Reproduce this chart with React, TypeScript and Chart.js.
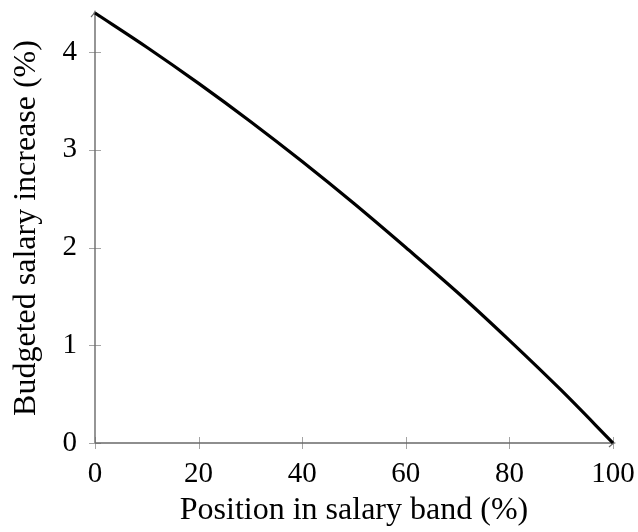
import React, { useEffect, useRef } from "react";
import { Chart, registerables } from "chart.js";

Chart.register(...registerables);

const positions = [0, 10, 20, 30, 40, 50, 60, 70, 80, 90, 100];
const increases = [4.4, 4.05, 3.68, 3.29, 2.88, 2.45, 2.0, 1.54, 1.05, 0.54, 0];
const xTickValues = [0, 20, 40, 60, 80, 100];
const yTickValues = [0, 1, 2, 3, 4];
const xTitle = "Position in salary band (%)";
const yTitle = "Budgeted salary increase (%)";

const FONT = "'Liberation Serif', 'Times New Roman', serif";

const axesPlugin = {
  id: "pgfAxes",
  beforeDatasetsDraw(chart: any) {
    const { ctx, chartArea, scales } = chart;
    const xs = scales.x;
    const ys = scales.y;
    const x0 = xs.getPixelForValue(0);
    const y0 = ys.getPixelForValue(0);
    const xEnd = chartArea.right;
    const yTop = chartArea.top;
    ctx.save();
    ctx.strokeStyle = "#9a9a9a";
    ctx.lineWidth = 0.9;
    ctx.beginPath();
    xTickValues.forEach((v) => {
      const px = Math.round(xs.getPixelForValue(v)) + 0.5;
      ctx.moveTo(px, y0 - 6);
      ctx.lineTo(px, y0 + 6);
    });
    yTickValues.forEach((v) => {
      const py = Math.round(ys.getPixelForValue(v)) + 0.5;
      ctx.moveTo(x0 - 6, py);
      ctx.lineTo(x0 + 6, py);
    });
    ctx.stroke();
    ctx.strokeStyle = "#6a6a6a";
    ctx.lineWidth = 1.4;
    ctx.beginPath();
    ctx.moveTo(x0, y0);
    ctx.lineTo(xEnd + 1, y0);
    ctx.moveTo(x0, y0);
    ctx.lineTo(x0, yTop - 1);
    ctx.stroke();
    ctx.lineWidth = 1.2;
    ctx.beginPath();
    ctx.moveTo(xEnd - 4, y0 - 4);
    ctx.quadraticCurveTo(xEnd - 1, y0 - 1, xEnd + 1.5, y0);
    ctx.quadraticCurveTo(xEnd - 1, y0 + 1, xEnd - 4, y0 + 4);
    ctx.moveTo(x0 - 4, yTop + 4);
    ctx.quadraticCurveTo(x0 - 1, yTop + 1, x0, yTop - 1.5);
    ctx.quadraticCurveTo(x0 + 1, yTop + 1, x0 + 4, yTop + 4);
    ctx.stroke();
    ctx.restore();
  },
};

export default function App() {
  const canvasRef = useRef<HTMLCanvasElement | null>(null);

  useEffect(() => {
    const canvas = canvasRef.current;
    if (!canvas) return;
    const chart = new Chart(canvas, {
      type: "line",
      data: {
        labels: positions,
        datasets: [
          {
            data: positions.map((x, i) => ({ x, y: increases[i] })),
            borderColor: "#000000",
            borderWidth: 3.2,
            pointRadius: 0,
            cubicInterpolationMode: "monotone",
            fill: false,
            clip: false as any,
          },
        ],
      },
      options: {
        animation: false,
        responsive: false,
        maintainAspectRatio: false,
        devicePixelRatio: 1,
        layout: { padding: { top: 13, right: 25, left: 0, bottom: 0 } },
        plugins: {
          legend: { display: false },
          tooltip: { enabled: false },
        },
        scales: {
          x: {
            type: "linear",
            min: 0,
            max: 100,
            grid: { display: false },
            border: { display: false },
            afterBuildTicks: (scale: any) => {
              scale.ticks = xTickValues.map((v) => ({ value: v }));
            },
            afterFit: (scale: any) => {
              scale.height = 89;
              scale.paddingLeft = 0;
              scale.paddingRight = 0;
              scale.paddingTop = 0;
              scale.paddingBottom = 0;
            },
            ticks: {
              color: "#000",
              padding: 6,
              maxRotation: 0,
              autoSkip: false,
              font: { family: FONT, size: 29 },
            },
            title: {
              display: true,
              text: xTitle,
              color: "#000",
              font: { family: FONT, size: 32 },
              padding: { top: 0, bottom: 2 },
            },
          },
          y: {
            type: "linear",
            min: 0,
            max: 4.4,
            grid: { display: false },
            border: { display: false },
            afterBuildTicks: (scale: any) => {
              scale.ticks = yTickValues.map((v) => ({ value: v }));
            },
            afterFit: (scale: any) => {
              scale.width = 95;
              scale.paddingLeft = 0;
              scale.paddingRight = 0;
              scale.paddingTop = 0;
              scale.paddingBottom = 0;
            },
            ticks: {
              color: "#000",
              padding: 10,
              font: { family: FONT, size: 29 },
            },
            title: {
              display: true,
              text: yTitle,
              color: "#000",
              font: { family: FONT, size: 32 },
              padding: { top: 7, bottom: 0 },
            },
          },
        },
      },
      plugins: [axesPlugin],
    });
    return () => chart.destroy();
  }, []);

  return (
    <div style={{ position: "fixed", left: 0, top: 0, width: 638, height: 532, background: "#fff" }}>
      <canvas ref={canvasRef} width={638} height={532} style={{ width: 638, height: 532, display: "block" }} />
    </div>
  );
}
